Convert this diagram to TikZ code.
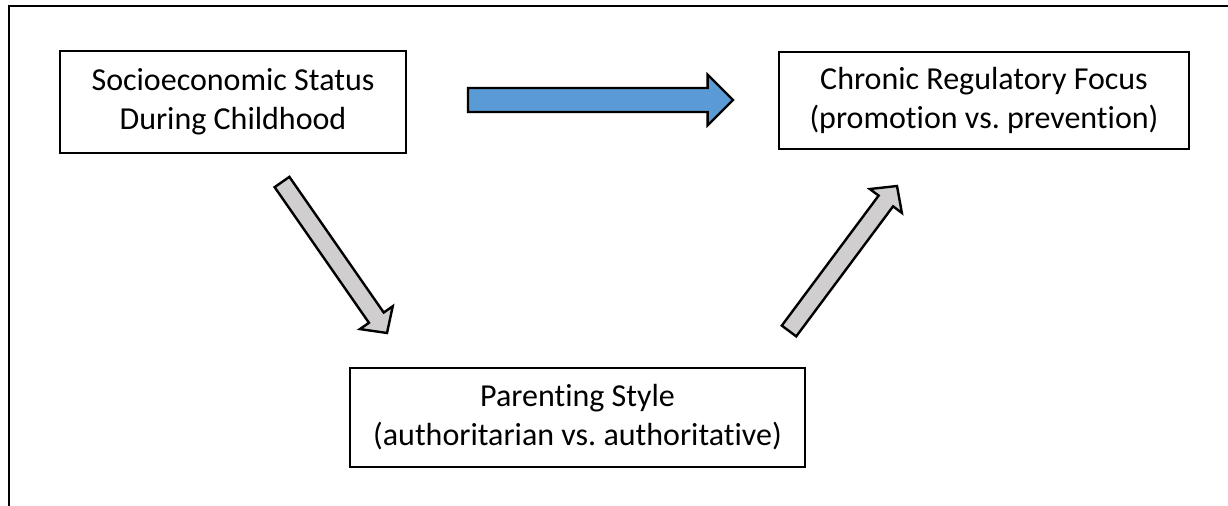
\documentclass[tikz,border=0pt]{standalone}
\usepackage{fontspec}
\setmainfont{Carlito}[Ligatures=NoCommon]
\usetikzlibrary{calc}
\frenchspacing

% block arrow: style, from, to, shaft half width, head half width, head length
\newcommand{\blockarrow}[6][]{%
    \draw[line width=1.8pt, line join=miter, #1]
        ($(#2)!#4!90:(#3)$) -- ($(#3)!#6!(#2)!#4!-90:(#2)$) -- ($(#3)!#6!(#2)!#5!-90:(#2)$)
        -- (#3) -- ($(#3)!#6!(#2)!#5!90:(#2)$) -- ($(#3)!#6!(#2)!#4!90:(#2)$)
        -- ($(#2)!#4!-90:(#3)$) -- cycle;
}

\definecolor{arrowblue}{RGB}{91,155,213}
\definecolor{arrowgray}{RGB}{208,206,206}

\begin{document}
\begin{tikzpicture}[x=0.75pt, y=-0.75pt,
        box/.style={draw, line width=1.5pt, align=center, inner sep=0pt,
            font=\fontsize{24}{29.3}\selectfont}]
    \useasboundingbox (0,0) rectangle (1228,506);
    \draw[line width=1.5pt] (9,506) -- (9,6) -- (1228,6);

    \node[box, minimum width=346*0.75pt, minimum height=102*0.75pt] (ses) at (233,102)
        {Socioeconomic Status\\During Childhood};
    \node[box, minimum width=410*0.75pt, minimum height=97*0.75pt] (crf) at (984,100.5)
        {Chronic Regulatory Focus\\(promotion vs. prevention)};
    \node[box, minimum width=455*0.75pt, minimum height=99*0.75pt] (ps) at (577.5,417.5)
        {Parenting Style\\(authoritarian vs. authoritative)};

    \coordinate (sesright) at (468,100);
    \coordinate (crfleft) at (733,100);
    \coordinate (sesbelow) at (282,182);
    \coordinate (psabove) at (387,333);
    \coordinate (psright) at (789,331);
    \coordinate (crfbelow) at (897,186);

    \blockarrow[fill=arrowblue]{sesright}{crfleft}{9pt}{19pt}{19pt}
    \blockarrow[fill=arrowgray]{sesbelow}{psabove}{6.75pt}{15pt}{14pt}
    \blockarrow[fill=arrowgray]{psright}{crfbelow}{6.75pt}{15pt}{14pt}
\end{tikzpicture}
\end{document}
